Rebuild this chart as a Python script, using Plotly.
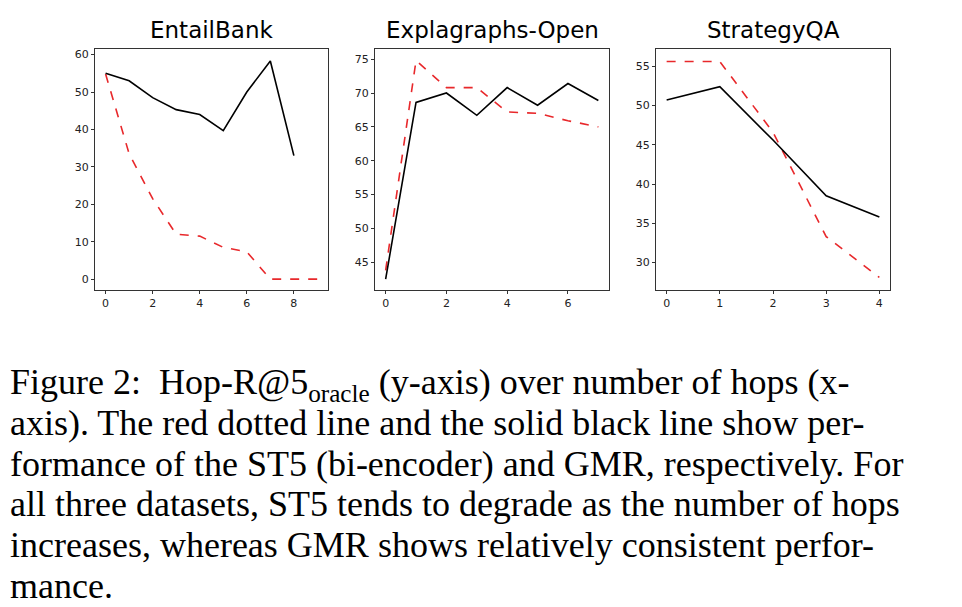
import plotly.graph_objects as go

# EntailBank
eb_x_gmr = [0, 1, 2, 3, 4, 5, 6, 7, 8]
eb_gmr = [55.0, 53.0, 48.5, 45.3, 44.0, 39.7, 50.0, 58.3, 33.0]
eb_x_st5 = [0, 1, 2, 3, 4, 5, 6, 7, 8, 9]
eb_st5 = [54.8, 33.5, 21.5, 12.0, 11.5, 8.5, 7.3, 0.0, 0.0, 0.0]

# Explagraphs-Open
ex_x = [0, 1, 2, 3, 4, 5, 6, 7]
ex_gmr = [42.5, 68.6, 70.0, 66.7, 70.8, 68.2, 71.4, 68.9]
ex_st5 = [43.8, 74.8, 70.8, 70.8, 67.2, 67.0, 65.9, 65.0]

# StrategyQA
sq_x = [0, 1, 2, 3, 4]
sq_gmr = [50.7, 52.4, 45.6, 38.5, 35.8]
sq_st5 = [55.6, 55.6, 46.6, 33.3, 28.1]

titles = ["EntailBank", "Explagraphs-Open", "StrategyQA"]
caption = [
    "Figure 2:  Hop-R@5<sub>oracle</sub> (y-axis) over number of hops (x-",
    "axis). The red dotted line and the solid black line show per-",
    "formance of the ST5 (bi-encoder) and GMR, respectively. For",
    "all three datasets, ST5 tends to degrade as the number of hops",
    "increases, whereas GMR shows relatively consistent perfor-",
    "mance.",
]

W, H = 962, 607
panels = [
    (eb_x_gmr, eb_gmr, eb_x_st5, eb_st5, (87, 320), [-0.45, 9.45], [-2.9, 61.5], [0, 2, 4, 6, 8], [0, 10, 20, 30, 40, 50, 60]),
    (ex_x, ex_gmr, ex_x, ex_st5, (367, 601), [-0.35, 7.35], [40.9, 76.5], [0, 2, 4, 6], [45, 50, 55, 60, 65, 70, 75]),
    (sq_x, sq_gmr, sq_x, sq_st5, (648, 882), [-0.2, 4.2], [26.5, 57.2], [0, 1, 2, 3, 4], [30, 35, 40, 45, 50, 55]),
]

fig = go.Figure()
layout = {}
for i, (xg, yg, xs, ys, (x0, x1), xr, yr, xt, yt) in enumerate(panels):
    n = "" if i == 0 else str(i + 1)
    fig.add_trace(go.Scatter(x=xs, y=ys, mode="lines", line=dict(color="#e8282b", width=1.6, dash="dash"),
                             xaxis="x" + n, yaxis="y" + n, showlegend=False))
    fig.add_trace(go.Scatter(x=xg, y=yg, mode="lines", line=dict(color="black", width=1.6),
                             xaxis="x" + n, yaxis="y" + n, showlegend=False))
    common = dict(showline=True, mirror=True, linecolor="#333", linewidth=1, showgrid=False, zeroline=False,
                  ticks="outside", ticklen=3, tickcolor="#333", tickfont=dict(size=11, color="#222", family="DejaVu Sans"))
    layout["xaxis" + n] = dict(domain=[x0 / W, x1 / W], range=xr, tickvals=xt, anchor="y" + n, **common)
    layout["yaxis" + n] = dict(domain=[1 - 282 / H, 1 - 41 / H], range=yr, tickvals=yt, anchor="x" + n, **common)
    fig.add_annotation(text=titles[i], x=(x0 + x1) / 2 / W, y=1 - 22 / H, xref="paper", yref="paper",
                       xanchor="center", yanchor="middle",
                       showarrow=False, font=dict(size=23, color="black", family="DejaVu Sans"))

line_top = [352, 393, 434, 474, 515, 556]
for t, yy in zip(caption, line_top):
    fig.add_annotation(text=t, x=0, y=1 - yy / H, xref="paper", yref="paper", xanchor="left", yanchor="top",
                       showarrow=False, font=dict(size=36, color="black", family="Liberation Serif"))

fig.update_layout(width=W, height=H, margin=dict(l=0, r=0, t=0, b=0),
                  plot_bgcolor="white", paper_bgcolor="white", **layout)
fig.write_html("out.html")
